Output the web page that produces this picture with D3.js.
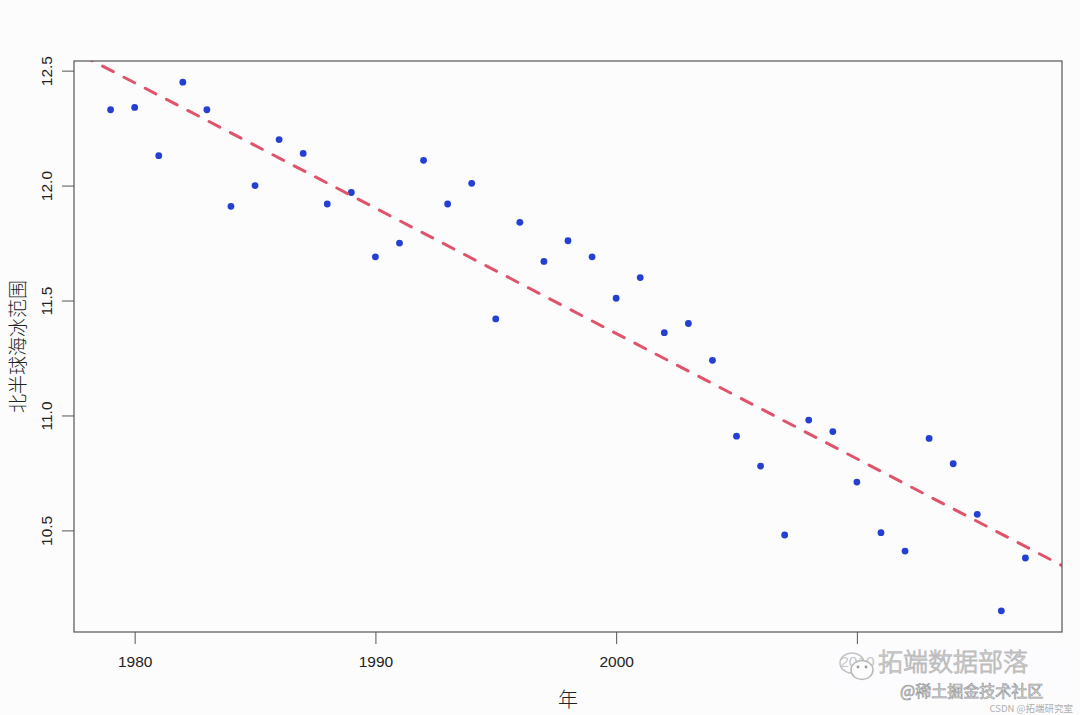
<!DOCTYPE html>
<html>
<head>
<meta charset="utf-8">
<script src="https://cdn.jsdelivr.net/npm/d3@7"></script>
<style>
  html, body { margin: 0; padding: 0; background: #fcfcfd; }
  svg { display: block; }
</style>
</head>
<body>
<svg id="chart" width="1080" height="715"></svg>
<script>
// ---- data ----
const years = [1979,1980,1981,1982,1983,1984,1985,1986,1987,1988,1989,1990,1991,1992,1993,1994,1995,1996,1997,1998,
               1999,2000,2001,2002,2003,2004,2005,2006,2007,2008,2009,2010,2011,2012,2013,2014,2015,2016,2017];
const extent = [12.33,12.34,12.13,12.45,12.33,11.91,12.00,12.20,12.14,11.92,11.97,11.69,11.75,12.11,11.92,12.01,11.42,11.84,11.67,11.76,
                11.69,11.51,11.60,11.36,11.40,11.24,10.91,10.78,10.48,10.98,10.93,10.71,10.49,10.41,10.90,10.79,10.57,10.15,10.38];
const xTicks = [1980, 1990, 2000, 2010];
const yTicks = [10.5, 11.0, 11.5, 12.0, 12.5];
const xTitle = "年";
const yTitle = "北半球海冰范围";

// ---- layout ----
const svg = d3.select("#chart");
const box = {left: 74, right: 1062, top: 61, bottom: 632};

// R-style 4% padding
function padded(ext) { const r = ext[1] - ext[0]; return [ext[0] - 0.04 * r, ext[1] + 0.04 * r]; }
const x = d3.scaleLinear().domain(padded(d3.extent(years))).range([box.left, box.right]);
const y = d3.scaleLinear().domain(padded(d3.extent(extent))).range([box.bottom, box.top]);

// least-squares fit (abline(lm(...)))
const mx = d3.mean(years), my = d3.mean(extent);
let sxy = 0, sxx = 0;
years.forEach((yr, i) => { sxy += (yr - mx) * (extent[i] - my); sxx += (yr - mx) * (yr - mx); });
const slope = sxy / sxx, intercept = my - slope * mx;

// clip
svg.append("defs").append("clipPath").attr("id", "clip")
  .append("rect").attr("x", box.left).attr("y", box.top)
  .attr("width", box.right - box.left).attr("height", box.bottom - box.top);

// points
svg.append("g").selectAll("circle").data(years).join("circle")
  .attr("cx", d => x(d)).attr("cy", (d, i) => y(extent[i]))
  .attr("r", 3.4).attr("fill", "#2340d2");

// regression line
const xd = x.domain();
svg.append("line").attr("clip-path", "url(#clip)")
  .attr("x1", x(xd[0] - 5)).attr("y1", y(intercept + slope * (xd[0] - 5)))
  .attr("x2", x(xd[1] + 5)).attr("y2", y(intercept + slope * (xd[1] + 5)))
  .attr("stroke", "#DF536B").attr("stroke-width", 3)
  .attr("stroke-dasharray", "12,12").attr("stroke-linecap", "round");

// box
svg.append("rect").attr("x", box.left).attr("y", box.top)
  .attr("width", box.right - box.left).attr("height", box.bottom - box.top)
  .attr("fill", "none").attr("stroke", "#555").attr("stroke-width", 1.2);

// x axis
const xAxis = d3.axisBottom(x).tickValues(xTicks).tickSize(12).tickPadding(12).tickFormat(d3.format("d"));
const gx = svg.append("g").attr("transform", `translate(0,${box.bottom})`).call(xAxis);
gx.select(".domain").remove();
gx.selectAll(".tick line").attr("stroke", "#555");
gx.selectAll(".tick text").attr("font-family", "'Liberation Sans', Arial, sans-serif")
  .attr("font-size", 15.5).attr("fill", "#222");

// y axis
const yAxis = d3.axisLeft(y).tickValues(yTicks).tickSize(12).tickPadding(0).tickFormat(d3.format(".1f"));
const gy = svg.append("g").attr("transform", `translate(${box.left},0)`).call(yAxis);
gy.select(".domain").remove();
gy.selectAll(".tick line").attr("stroke", "#555");
gy.selectAll(".tick text")
  .attr("font-family", "'Liberation Sans', Arial, sans-serif")
  .attr("font-size", 15.5).attr("fill", "#222")
  .attr("x", null).attr("dy", null)
  .attr("text-anchor", "middle")
  .attr("transform", "translate(-22,0) rotate(-90)");

// axis titles
svg.append("text").attr("x", (box.left + box.right) / 2).attr("y", 707)
  .attr("text-anchor", "middle").attr("font-family", "'Noto Sans CJK SC', sans-serif")
  .attr("font-weight", 300).attr("font-size", 20).attr("fill", "#222").text(xTitle);
svg.append("text").attr("transform", `translate(25,${(box.top + box.bottom) / 2}) rotate(-90)`)
  .attr("text-anchor", "middle").attr("font-family", "'Noto Sans CJK SC', sans-serif")
  .attr("font-weight", 300).attr("font-size", 19).attr("fill", "#222").text(yTitle);

// watermark
const wm = svg.append("g");
wm.append("rect").attr("x", 835).attr("y", 647).attr("width", 240).attr("height", 45)
  .attr("fill", "#fcfcfd").attr("opacity", 0.75);
wm.append("ellipse").attr("cx", 852).attr("cy", 663).attr("rx", 12).attr("ry", 10)
  .attr("fill", "none").attr("stroke", "#c4c4c4").attr("stroke-width", 1.5);
wm.append("ellipse").attr("cx", 862).attr("cy", 670).attr("rx", 11).attr("ry", 9.5)
  .attr("fill", "#fcfcfd").attr("stroke", "#b8b8b8").attr("stroke-width", 1.5);
wm.append("circle").attr("cx", 858).attr("cy", 667).attr("r", 1.4).attr("fill", "#999");
wm.append("circle").attr("cx", 866).attr("cy", 667).attr("r", 1.4).attr("fill", "#999");
wm.append("text").attr("x", 878).attr("y", 671).attr("font-family", "'Noto Sans CJK SC', sans-serif")
  .attr("font-weight", 300).attr("font-size", 25).attr("fill", "none").attr("stroke", "#bdbdbd").attr("stroke-width", 1)
  .text("拓端数据部落");
wm.append("text").attr("x", 900).attr("y", 697).attr("font-family", "'Noto Sans CJK SC', sans-serif")
  .attr("font-size", 16).attr("fill", "#eee").attr("stroke", "#9a9a9a").attr("stroke-width", 0.7)
  .text("@稀土掘金技术社区");
wm.append("text").attr("x", 1073).attr("y", 712).attr("text-anchor", "end")
  .attr("font-family", "'Noto Sans CJK SC', sans-serif")
  .attr("font-size", 9.5).attr("fill", "#b0b0b0").text("CSDN @拓端研究室");
</script>
</body>
</html>
